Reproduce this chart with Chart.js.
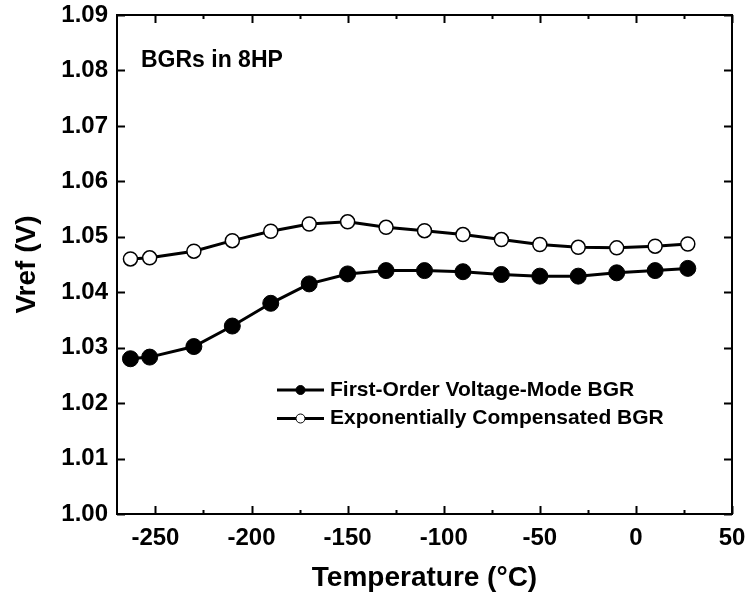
<!DOCTYPE html>
<html>
<head>
<meta charset="utf-8">
<script src="https://cdn.jsdelivr.net/npm/chart.js@4.4.0/dist/chart.umd.min.js"></script>
<style>
  html, body { margin: 0; padding: 0; background: #fff; }
  #wrap { width: 746px; height: 597px; }
</style>
</head>
<body>
<div id="wrap"><canvas id="myChart" width="746" height="597"></canvas></div>
<script>
// temperature in degC
var temps = [-263, -253, -230, -210, -190, -170, -150, -130, -110, -90, -70, -50, -30, -10, 10, 27];
var firstOrder = [1.0280, 1.0283, 1.0302, 1.0339, 1.0380, 1.0415, 1.0433, 1.0439, 1.0439, 1.0437, 1.0432, 1.0429, 1.0429, 1.0435, 1.0439, 1.0443];
var expComp = [1.0460, 1.0462, 1.0474, 1.0493, 1.0510, 1.0523, 1.0527, 1.0517, 1.0511, 1.0504, 1.0495, 1.0486, 1.0481, 1.0480, 1.0483, 1.0487];

var xTicks = [-250, -200, -150, -100, -50, 0, 50];
var xMinor = [-225, -175, -125, -75, -25, 25];
var yTicks = [1.00, 1.01, 1.02, 1.03, 1.04, 1.05, 1.06, 1.07, 1.08, 1.09];

var seriesNames = ["First-Order Voltage-Mode BGR", "Exponentially Compensated BGR"];
var note = "BGRs in 8HP";

var FONT = "'Liberation Sans', Arial, sans-serif";

function pts(ys) {
  return temps.map(function (t, i) { return { x: t, y: ys[i] }; });
}

// frame, inward ticks, legend and note
var framePlugin = {
  id: "frame",
  afterDraw: function (chart) {
    var ctx = chart.ctx, a = chart.chartArea;
    var xs = chart.scales.x, ys = chart.scales.y;
    ctx.save();
    ctx.strokeStyle = "#000";
    ctx.lineWidth = 2;
    ctx.strokeRect(a.left, a.top, a.right - a.left, a.bottom - a.top);
    ctx.beginPath();
    xTicks.forEach(function (v) {
      var p = Math.round(xs.getPixelForValue(v)) + 0.5;
      ctx.moveTo(p, a.bottom); ctx.lineTo(p, a.bottom - 8);
      ctx.moveTo(p, a.top); ctx.lineTo(p, a.top + 8);
    });
    xMinor.forEach(function (v) {
      var p = Math.round(xs.getPixelForValue(v)) + 0.5;
      ctx.moveTo(p, a.bottom); ctx.lineTo(p, a.bottom - 4);
      ctx.moveTo(p, a.top); ctx.lineTo(p, a.top + 4);
    });
    yTicks.forEach(function (v) {
      var p = Math.round(ys.getPixelForValue(v)) + 0.5;
      ctx.moveTo(a.left, p); ctx.lineTo(a.left + 8, p);
      ctx.moveTo(a.right, p); ctx.lineTo(a.right - 8, p);
    });
    ctx.stroke();

    // note
    ctx.fillStyle = "#000";
    ctx.font = "bold 23px " + FONT;
    ctx.textBaseline = "middle";
    ctx.textAlign = "left";
    ctx.fillText(note, a.left + 24, a.top + 46);

    // legend
    var lx = a.left + 160, rows = [a.top + 375, a.top + 403.5];
    ctx.font = "bold 21px " + FONT;
    rows.forEach(function (ry, i) {
      ctx.lineWidth = 3;
      ctx.beginPath();
      ctx.moveTo(lx, ry); ctx.lineTo(lx + 47, ry);
      ctx.stroke();
      ctx.beginPath();
      ctx.arc(lx + 23.5, ry, 4.5, 0, Math.PI * 2);
      ctx.fillStyle = i === 0 ? "#000" : "#fff";
      ctx.fill();
      ctx.lineWidth = 1;
      ctx.stroke();
      ctx.fillStyle = "#000";
      ctx.fillText(seriesNames[i], lx + 53, ry);
    });
    ctx.restore();
  }
};

new Chart("myChart", {
  type: "scatter",
  data: {
    datasets: [{
      label: seriesNames[0],
      data: pts(firstOrder),
      showLine: true,
      borderColor: "#000",
      borderWidth: 3,
      pointRadius: 8,
      pointBackgroundColor: "#000",
      pointBorderColor: "#000",
      pointBorderWidth: 1
    }, {
      label: seriesNames[1],
      data: pts(expComp),
      showLine: true,
      borderColor: "#000",
      borderWidth: 3,
      pointRadius: 7,
      pointBackgroundColor: "#fff",
      pointBorderColor: "#000",
      pointBorderWidth: 1.5
    }]
  },
  options: {
    responsive: false,
    animation: false,
    layout: { padding: { left: 0, right: 14, top: 15, bottom: 0 } },
    plugins: {
      legend: { display: false },
      tooltip: { enabled: false }
    },
    scales: {
      x: {
        type: "linear",
        min: -270,
        max: 50,
        afterBuildTicks: function (s) { s.ticks = xTicks.map(function (v) { return { value: v }; }); },
        afterFit: function (s) { s.height = 83; s.paddingLeft = 0; s.paddingRight = 0; },
        grid: { display: false },
        border: { display: false },
        ticks: {
          color: "#000",
          padding: 2,
          maxRotation: 0,
          font: { family: FONT, size: 24, weight: "bold" }
        },
        title: {
          display: true,
          text: "Temperature (°C)",
          color: "#000",
          padding: { top: 0, bottom: 2 },
          font: { family: FONT, size: 28, weight: "bold" }
        }
      },
      y: {
        type: "linear",
        min: 1.00,
        max: 1.09,
        afterBuildTicks: function (s) { s.ticks = yTicks.map(function (v) { return { value: v }; }); },
        afterFit: function (s) { s.width = 117; s.paddingTop = 0; s.paddingBottom = 0; },
        grid: { display: false },
        border: { display: false },
        ticks: {
          color: "#000",
          padding: 1,
          font: { family: FONT, size: 24, weight: "bold" },
          callback: function (v) { return v.toFixed(2); }
        },
        title: {
          display: true,
          text: "Vref (V)",
          color: "#000",
          padding: { top: 10, bottom: 0 },
          font: { family: FONT, size: 28, weight: "bold" }
        }
      }
    }
  },
  plugins: [framePlugin]
});
</script>
</body>
</html>
